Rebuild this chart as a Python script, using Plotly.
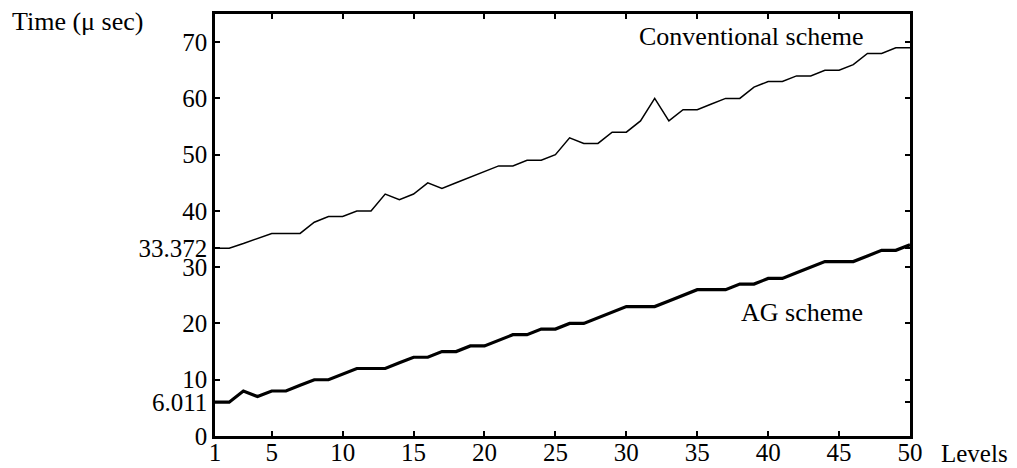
import plotly.graph_objects as go

levels = list(range(1, 51))
conventional = [33.372, 33.372, 34.2, 35.1, 36, 36, 36, 38, 39, 39,
                40, 40, 43, 42, 43, 45, 44, 45, 46, 47,
                48, 48, 49, 49, 50, 53, 52, 52, 54, 54,
                56, 60, 56, 58, 58, 59, 60, 60, 62, 63,
                63, 64, 64, 65, 65, 66, 68, 68, 69, 69]
ag = [6.011, 6.011, 8, 7, 8, 8, 9, 10, 10, 11,
      12, 12, 12, 13, 14, 14, 15, 15, 16, 16,
      17, 18, 18, 19, 19, 20, 20, 21, 22, 23,
      23, 23, 24, 25, 26, 26, 26, 27, 27, 28,
      28, 29, 30, 31, 31, 31, 32, 33, 33, 34]
x_ticks = [1, 5, 10, 15, 20, 25, 30, 35, 40, 45, 50]
y_ticks = [0, 6.011, 10, 20, 30, 33.372, 40, 50, 60, 70]
y_tick_text = ["0", "6.011", "10", "20", "30", "33.372", "40", "50", "60", "70"]

FONT = "Liberation Serif, Times New Roman, serif"
FS = 26
TFS = 25

# page body has an 8px default margin; figure sized/offset to compensate
PW, PH = 695, 422  # plot area size in px

fig = go.Figure()
fig.add_trace(go.Scatter(x=levels, y=conventional, mode="lines",
                         line=dict(color="black", width=1.5), showlegend=False))
fig.add_trace(go.Scatter(x=levels, y=ag, mode="lines",
                         line=dict(color="black", width=3.2), showlegend=False))

fig.add_annotation(x=38.8, y=71.0, text="Conventional scheme", showarrow=False,
                   xref="x", yref="y", font=dict(family=FONT, size=FS, color="black"))
fig.add_annotation(x=42.4, y=21.9, text="AG scheme", showarrow=False,
                   xref="x", yref="y", font=dict(family=FONT, size=FS, color="black"))
fig.add_annotation(x=(10 - 215) / PW, y=(436 - 21) / PH, xref="paper", yref="paper",
                   xanchor="left", yanchor="middle", text="Time (\u03bc sec)", showarrow=False,
                   font=dict(family=FONT, size=FS, color="black"))
fig.add_annotation(x=(939 - 215) / PW, y=-(453 - 436) / PH, xref="paper", yref="paper",
                   xanchor="left", yanchor="middle", text="Levels", showarrow=False,
                   font=dict(family=FONT, size=TFS, color="black"))

fig.update_layout(
    width=1009, height=460,
    margin=dict(l=207, r=107, t=6, b=32),
    paper_bgcolor="white", plot_bgcolor="white",
    font=dict(family=FONT, size=FS, color="black"),
)
fig.update_xaxes(range=[1, 50], tickvals=x_ticks, ticks="inside", ticklen=5, tickwidth=2,
                 tickcolor="black", showline=True, linecolor="black", linewidth=2.5,
                 mirror="ticks", showgrid=False, zeroline=False, automargin=False,
                 ticklabelstandoff=-8,
                 tickfont=dict(family=FONT, size=TFS, color="black"))
fig.update_yaxes(range=[0, 75], tickvals=y_ticks, ticktext=y_tick_text, ticks="inside",
                 ticklen=5, tickwidth=2, tickcolor="black", showline=True, linecolor="black",
                 linewidth=2.5, mirror="ticks", showgrid=False, zeroline=False, automargin=False,
                 tickfont=dict(family=FONT, size=TFS, color="black"))

fig.write_html("out.html")
